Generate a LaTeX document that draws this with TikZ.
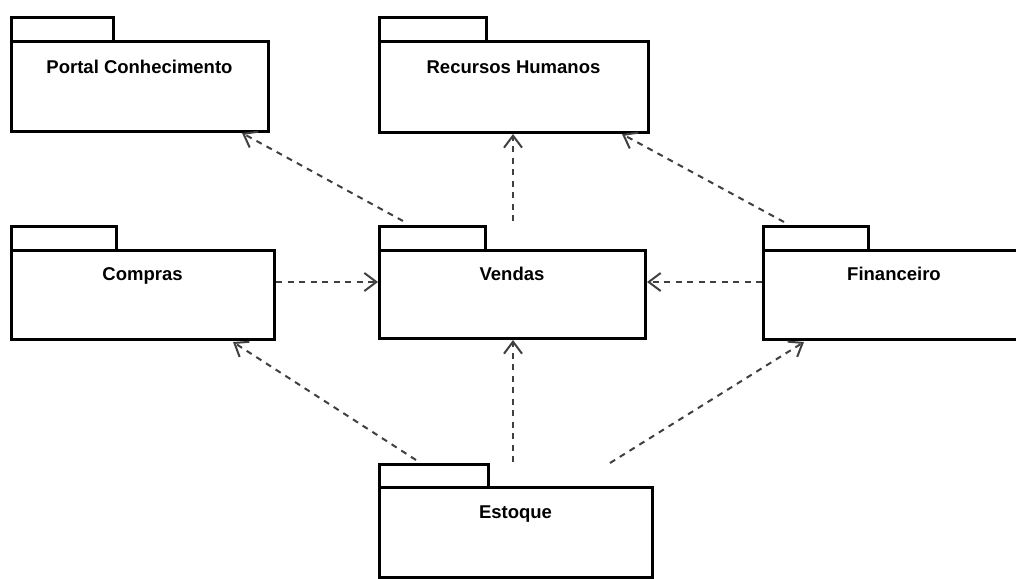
\documentclass[tikz,border=0pt]{standalone}
\usepackage{fontspec}
\setmainfont{Liberation Sans}
\usetikzlibrary{arrows.meta}
\tikzset{
  pkgbody/.style={draw=black, line width=3pt, fill=white, inner sep=0pt, outer sep=0pt, anchor=north west},
  pkgtab/.style={draw=black, line width=3pt, fill=white, inner sep=0pt, outer sep=0pt, anchor=south west, minimum height=24pt},
  lbl/.style={font=\fontsize{18.5}{22}\selectfont\bfseries, inner sep=0pt, anchor=base, text=black},
  dep/.style={draw=black!75, line width=2pt, dash pattern=on 6pt off 5.5pt, -{Straight Barb[length=12pt,width=18pt]}}
}
\begin{document}
\begin{tikzpicture}[x=1pt,y=-1pt]
\fill[white] (0,0) rectangle (1016,578);
\useasboundingbox (0,0) rectangle (1016,578);
\clip (0,0) rectangle (1016,578);
% packages
\node[pkgbody, minimum width=257pt, minimum height=89pt] (portal) at (11,42) {};
\node[pkgtab, minimum width=102pt] (portaltab) at (portal.north west) {};
\node[lbl] (portallbl) at ([yshift=-31pt]portal.north) {Portal Conhecimento};

\node[pkgbody, minimum width=269pt, minimum height=90pt] (rh) at (379,42) {};
\node[pkgtab, minimum width=107pt] (rhtab) at (rh.north west) {};
\node[lbl] (rhlbl) at ([yshift=-31pt]rh.north) {Recursos Humanos};

\node[pkgbody, minimum width=263pt, minimum height=89pt] (compras) at (11,250) {};
\node[pkgtab, minimum width=105pt] (comprastab) at (compras.north west) {};
\node[lbl] (compraslbl) at ([yshift=-30pt]compras.north) {Compras};

\node[pkgbody, minimum width=266pt, minimum height=88pt] (vendas) at (379,250) {};
\node[pkgtab, minimum width=106pt] (vendastab) at (vendas.north west) {};
\node[lbl] (vendaslbl) at ([yshift=-30pt]vendas.north) {Vendas};

\node[pkgbody, minimum width=262pt, minimum height=89pt] (fin) at (763,250) {};
\node[pkgtab, minimum width=105pt] (fintab) at (fin.north west) {};
\node[lbl] (finlbl) at ([yshift=-30pt]fin.north) {Financeiro};

\node[pkgbody, minimum width=273pt, minimum height=90pt] (estoque) at (379,487) {};
\node[pkgtab, minimum width=109pt, minimum height=23pt] (estoquetab) at (estoque.north west) {};
\node[lbl] (estoquelbl) at ([yshift=-31pt]estoque.north) {Estoque};

% connector ends
\coordinate (vp) at (403,221);
\coordinate (pv) at (242,133);
\coordinate (vr) at (513,221);
\coordinate (rv) at (513,134);
\coordinate (fr) at (784,222);
\coordinate (rf) at (622,134);
\coordinate (cv) at (276,282);
\coordinate (vc) at (378,282);
\coordinate (fv) at (762,282);
\coordinate (vf) at (647,282);
\coordinate (ec) at (416,460);
\coordinate (ce) at (233,342);
\coordinate (ev) at (513,462);
\coordinate (ve) at (513,340);
\coordinate (ef) at (610,463);
\coordinate (fe) at (804,342);

\draw[dep] (vp) -- (pv);
\draw[dep] (vr) -- (rv);
\draw[dep] (fr) -- (rf);
\draw[dep] (cv) -- (vc);
\draw[dep] (fv) -- (vf);
\draw[dep] (ec) -- (ce);
\draw[dep] (ev) -- (ve);
\draw[dep] (ef) -- (fe);
\end{tikzpicture}
\end{document}
